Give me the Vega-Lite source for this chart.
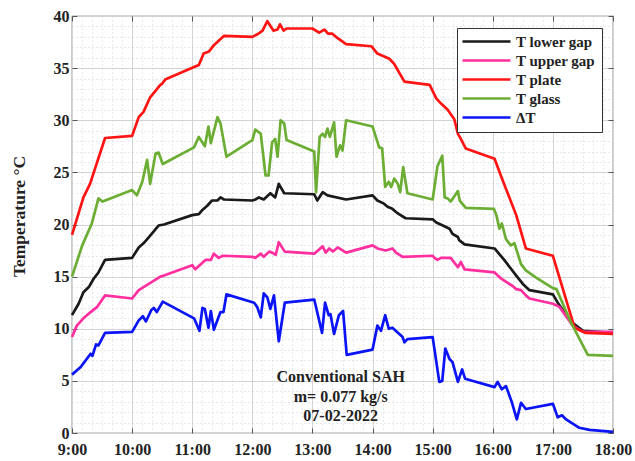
{
"$schema": "https://vega.github.io/schema/vega-lite/v6.json",
"width": 541, "height": 417,
"autosize": {"type": "none"},
"padding": {"left": 72, "top": 16, "right": 22, "bottom": 28},
"background": "white",
"config": {"view": {"stroke": "#555555", "strokeWidth": 1.2}, "font": "Liberation Serif"},
"datasets": {
"notes": [
{"t": 13.47, "v": 5.4, "label": "Conventional SAH"},
{"t": 13.47, "v": 3.5, "label": "m= 0.077 kg/s"},
{"t": 13.47, "v": 1.6, "label": "07-02-2022"}
],
"series": [
{"s":"T lower gap","t":9.0,"v":11.3},{"s":"T lower gap","t":9.11,"v":12.4},{"s":"T lower gap","t":9.19,"v":13.5},{"s":"T lower gap","t":9.28,"v":14.0},{"s":"T lower gap","t":9.36,"v":14.8},{"s":"T lower gap","t":9.44,"v":15.4},{"s":"T lower gap","t":9.55,"v":16.6},{"s":"T lower gap","t":10.0,"v":16.8},{"s":"T lower gap","t":10.11,"v":17.8},{"s":"T lower gap","t":10.19,"v":18.2},{"s":"T lower gap","t":10.28,"v":18.8},{"s":"T lower gap","t":10.44,"v":19.9},{"s":"T lower gap","t":10.53,"v":20.0},{"s":"T lower gap","t":11.0,"v":20.9},{"s":"T lower gap","t":11.11,"v":21.0},{"s":"T lower gap","t":11.17,"v":21.4},{"s":"T lower gap","t":11.25,"v":21.8},{"s":"T lower gap","t":11.33,"v":22.3},{"s":"T lower gap","t":11.42,"v":22.3},{"s":"T lower gap","t":11.47,"v":22.6},{"s":"T lower gap","t":11.53,"v":22.4},{"s":"T lower gap","t":12.0,"v":22.3},{"s":"T lower gap","t":12.05,"v":22.4},{"s":"T lower gap","t":12.11,"v":22.6},{"s":"T lower gap","t":12.19,"v":22.4},{"s":"T lower gap","t":12.3,"v":23.0},{"s":"T lower gap","t":12.38,"v":22.6},{"s":"T lower gap","t":12.44,"v":23.9},{"s":"T lower gap","t":12.53,"v":23.0},{"s":"T lower gap","t":13.03,"v":22.9},{"s":"T lower gap","t":13.08,"v":22.3},{"s":"T lower gap","t":13.17,"v":23.1},{"s":"T lower gap","t":13.25,"v":22.8},{"s":"T lower gap","t":13.56,"v":22.4},{"s":"T lower gap","t":14.0,"v":22.8},{"s":"T lower gap","t":14.08,"v":22.3},{"s":"T lower gap","t":14.19,"v":22.0},{"s":"T lower gap","t":14.25,"v":21.7},{"s":"T lower gap","t":14.33,"v":21.5},{"s":"T lower gap","t":14.39,"v":21.2},{"s":"T lower gap","t":14.44,"v":21.0},{"s":"T lower gap","t":14.55,"v":20.6},{"s":"T lower gap","t":15.0,"v":20.5},{"s":"T lower gap","t":15.06,"v":20.2},{"s":"T lower gap","t":15.17,"v":19.9},{"s":"T lower gap","t":15.28,"v":19.6},{"s":"T lower gap","t":15.33,"v":19.1},{"s":"T lower gap","t":15.42,"v":18.8},{"s":"T lower gap","t":15.44,"v":18.5},{"s":"T lower gap","t":15.53,"v":18.1},{"s":"T lower gap","t":16.03,"v":17.7},{"s":"T lower gap","t":16.19,"v":16.6},{"s":"T lower gap","t":16.39,"v":15.1},{"s":"T lower gap","t":16.5,"v":14.3},{"s":"T lower gap","t":16.61,"v":13.7},{"s":"T lower gap","t":17.0,"v":13.3},{"s":"T lower gap","t":17.08,"v":12.5},{"s":"T lower gap","t":17.3,"v":10.7},{"s":"T lower gap","t":17.5,"v":9.8},{"s":"T lower gap","t":18.0,"v":9.6},
{"s":"T upper gap","t":9.0,"v":9.2},{"s":"T upper gap","t":9.08,"v":10.3},{"s":"T upper gap","t":9.19,"v":11.0},{"s":"T upper gap","t":9.31,"v":11.6},{"s":"T upper gap","t":9.42,"v":12.1},{"s":"T upper gap","t":9.55,"v":13.2},{"s":"T upper gap","t":10.0,"v":12.9},{"s":"T upper gap","t":10.11,"v":13.7},{"s":"T upper gap","t":10.33,"v":14.5},{"s":"T upper gap","t":10.47,"v":15.0},{"s":"T upper gap","t":10.53,"v":15.1},{"s":"T upper gap","t":11.0,"v":16.1},{"s":"T upper gap","t":11.05,"v":15.7},{"s":"T upper gap","t":11.22,"v":16.6},{"s":"T upper gap","t":11.31,"v":16.6},{"s":"T upper gap","t":11.36,"v":17.2},{"s":"T upper gap","t":11.44,"v":16.8},{"s":"T upper gap","t":11.51,"v":17.0},{"s":"T upper gap","t":12.0,"v":16.9},{"s":"T upper gap","t":12.05,"v":16.8},{"s":"T upper gap","t":12.14,"v":17.2},{"s":"T upper gap","t":12.19,"v":16.9},{"s":"T upper gap","t":12.28,"v":17.4},{"s":"T upper gap","t":12.33,"v":17.3},{"s":"T upper gap","t":12.39,"v":17.1},{"s":"T upper gap","t":12.44,"v":18.3},{"s":"T upper gap","t":12.54,"v":17.4},{"s":"T upper gap","t":13.03,"v":17.2},{"s":"T upper gap","t":13.17,"v":17.9},{"s":"T upper gap","t":13.22,"v":17.3},{"s":"T upper gap","t":13.28,"v":17.7},{"s":"T upper gap","t":13.34,"v":17.4},{"s":"T upper gap","t":13.42,"v":17.8},{"s":"T upper gap","t":13.56,"v":17.3},{"s":"T upper gap","t":14.0,"v":18.0},{"s":"T upper gap","t":14.08,"v":17.7},{"s":"T upper gap","t":14.22,"v":17.5},{"s":"T upper gap","t":14.33,"v":17.7},{"s":"T upper gap","t":14.39,"v":17.3},{"s":"T upper gap","t":14.5,"v":16.9},{"s":"T upper gap","t":15.0,"v":17.0},{"s":"T upper gap","t":15.03,"v":16.8},{"s":"T upper gap","t":15.08,"v":16.6},{"s":"T upper gap","t":15.14,"v":16.8},{"s":"T upper gap","t":15.3,"v":16.8},{"s":"T upper gap","t":15.42,"v":15.9},{"s":"T upper gap","t":15.47,"v":16.4},{"s":"T upper gap","t":15.53,"v":15.7},{"s":"T upper gap","t":16.03,"v":15.4},{"s":"T upper gap","t":16.14,"v":14.8},{"s":"T upper gap","t":16.33,"v":14.1},{"s":"T upper gap","t":16.39,"v":13.8},{"s":"T upper gap","t":16.47,"v":13.7},{"s":"T upper gap","t":16.55,"v":13.2},{"s":"T upper gap","t":16.61,"v":12.9},{"s":"T upper gap","t":17.0,"v":12.4},{"s":"T upper gap","t":17.11,"v":12.1},{"s":"T upper gap","t":17.33,"v":10.3},{"s":"T upper gap","t":17.5,"v":9.7},{"s":"T upper gap","t":18.0,"v":9.7},
{"s":"T plate","t":9.0,"v":19.0},{"s":"T plate","t":9.19,"v":22.6},{"s":"T plate","t":9.3,"v":23.9},{"s":"T plate","t":9.55,"v":28.3},{"s":"T plate","t":10.0,"v":28.5},{"s":"T plate","t":10.11,"v":30.3},{"s":"T plate","t":10.19,"v":30.8},{"s":"T plate","t":10.3,"v":32.2},{"s":"T plate","t":10.47,"v":33.4},{"s":"T plate","t":10.5,"v":33.5},{"s":"T plate","t":10.55,"v":33.9},{"s":"T plate","t":11.03,"v":35.1},{"s":"T plate","t":11.11,"v":35.3},{"s":"T plate","t":11.19,"v":36.4},{"s":"T plate","t":11.28,"v":36.6},{"s":"T plate","t":11.36,"v":37.2},{"s":"T plate","t":11.53,"v":38.1},{"s":"T plate","t":12.0,"v":38.0},{"s":"T plate","t":12.1,"v":38.3},{"s":"T plate","t":12.17,"v":38.6},{"s":"T plate","t":12.25,"v":39.5},{"s":"T plate","t":12.35,"v":38.6},{"s":"T plate","t":12.42,"v":38.7},{"s":"T plate","t":12.46,"v":39.2},{"s":"T plate","t":12.52,"v":38.6},{"s":"T plate","t":12.57,"v":38.8},{"s":"T plate","t":13.0,"v":38.8},{"s":"T plate","t":13.11,"v":38.4},{"s":"T plate","t":13.2,"v":38.7},{"s":"T plate","t":13.26,"v":38.3},{"s":"T plate","t":13.33,"v":38.3},{"s":"T plate","t":13.39,"v":38.0},{"s":"T plate","t":13.56,"v":37.3},{"s":"T plate","t":13.98,"v":37.1},{"s":"T plate","t":14.08,"v":36.4},{"s":"T plate","t":14.28,"v":35.9},{"s":"T plate","t":14.36,"v":35.4},{"s":"T plate","t":14.53,"v":33.7},{"s":"T plate","t":14.95,"v":33.4},{"s":"T plate","t":15.06,"v":32.1},{"s":"T plate","t":15.14,"v":31.6},{"s":"T plate","t":15.25,"v":31.0},{"s":"T plate","t":15.36,"v":30.1},{"s":"T plate","t":15.42,"v":28.7},{"s":"T plate","t":15.47,"v":28.2},{"s":"T plate","t":15.55,"v":27.3},{"s":"T plate","t":16.03,"v":26.3},{"s":"T plate","t":16.14,"v":24.6},{"s":"T plate","t":16.39,"v":20.9},{"s":"T plate","t":16.55,"v":17.7},{"s":"T plate","t":17.0,"v":17.0},{"s":"T plate","t":17.36,"v":10.1},{"s":"T plate","t":17.55,"v":9.6},{"s":"T plate","t":18.0,"v":9.5},
{"s":"T glass","t":9.0,"v":15.0},{"s":"T glass","t":9.17,"v":18.0},{"s":"T glass","t":9.33,"v":20.1},{"s":"T glass","t":9.44,"v":22.5},{"s":"T glass","t":9.51,"v":22.2},{"s":"T glass","t":10.0,"v":23.3},{"s":"T glass","t":10.08,"v":22.8},{"s":"T glass","t":10.17,"v":24.1},{"s":"T glass","t":10.25,"v":26.2},{"s":"T glass","t":10.3,"v":23.9},{"s":"T glass","t":10.39,"v":26.8},{"s":"T glass","t":10.44,"v":26.9},{"s":"T glass","t":10.51,"v":25.8},{"s":"T glass","t":11.03,"v":27.4},{"s":"T glass","t":11.11,"v":28.4},{"s":"T glass","t":11.21,"v":27.5},{"s":"T glass","t":11.27,"v":29.4},{"s":"T glass","t":11.31,"v":27.8},{"s":"T glass","t":11.42,"v":30.3},{"s":"T glass","t":11.47,"v":29.7},{"s":"T glass","t":11.57,"v":26.5},{"s":"T glass","t":12.0,"v":28.1},{"s":"T glass","t":12.05,"v":29.1},{"s":"T glass","t":12.14,"v":28.7},{"s":"T glass","t":12.22,"v":24.7},{"s":"T glass","t":12.27,"v":24.7},{"s":"T glass","t":12.33,"v":27.9},{"s":"T glass","t":12.38,"v":28.2},{"s":"T glass","t":12.42,"v":26.5},{"s":"T glass","t":12.47,"v":30.0},{"s":"T glass","t":12.53,"v":29.7},{"s":"T glass","t":12.57,"v":28.1},{"s":"T glass","t":13.03,"v":27.0},{"s":"T glass","t":13.06,"v":23.1},{"s":"T glass","t":13.12,"v":28.4},{"s":"T glass","t":13.17,"v":28.7},{"s":"T glass","t":13.21,"v":28.4},{"s":"T glass","t":13.25,"v":29.2},{"s":"T glass","t":13.29,"v":28.4},{"s":"T glass","t":13.32,"v":29.0},{"s":"T glass","t":13.36,"v":29.8},{"s":"T glass","t":13.4,"v":26.5},{"s":"T glass","t":13.46,"v":27.6},{"s":"T glass","t":13.5,"v":27.1},{"s":"T glass","t":13.56,"v":30.0},{"s":"T glass","t":14.0,"v":29.4},{"s":"T glass","t":14.11,"v":27.4},{"s":"T glass","t":14.16,"v":27.3},{"s":"T glass","t":14.21,"v":23.6},{"s":"T glass","t":14.27,"v":24.1},{"s":"T glass","t":14.31,"v":23.6},{"s":"T glass","t":14.36,"v":24.4},{"s":"T glass","t":14.42,"v":23.9},{"s":"T glass","t":14.46,"v":23.1},{"s":"T glass","t":14.51,"v":25.5},{"s":"T glass","t":14.58,"v":23.0},{"s":"T glass","t":15.0,"v":22.4},{"s":"T glass","t":15.08,"v":25.6},{"s":"T glass","t":15.16,"v":26.6},{"s":"T glass","t":15.2,"v":22.6},{"s":"T glass","t":15.25,"v":22.5},{"s":"T glass","t":15.3,"v":22.2},{"s":"T glass","t":15.42,"v":23.2},{"s":"T glass","t":15.45,"v":22.3},{"s":"T glass","t":15.55,"v":21.6},{"s":"T glass","t":16.02,"v":21.5},{"s":"T glass","t":16.06,"v":20.9},{"s":"T glass","t":16.11,"v":19.6},{"s":"T glass","t":16.15,"v":20.1},{"s":"T glass","t":16.22,"v":18.6},{"s":"T glass","t":16.3,"v":18.0},{"s":"T glass","t":16.36,"v":18.2},{"s":"T glass","t":16.47,"v":16.2},{"s":"T glass","t":16.55,"v":15.6},{"s":"T glass","t":16.72,"v":14.9},{"s":"T glass","t":17.0,"v":13.9},{"s":"T glass","t":17.06,"v":13.8},{"s":"T glass","t":17.3,"v":10.6},{"s":"T glass","t":17.58,"v":7.5},{"s":"T glass","t":18.0,"v":7.4},
{"s":"ΔT","t":9.0,"v":5.6},{"s":"ΔT","t":9.14,"v":6.3},{"s":"ΔT","t":9.31,"v":7.6},{"s":"ΔT","t":9.34,"v":7.4},{"s":"ΔT","t":9.4,"v":8.5},{"s":"ΔT","t":9.44,"v":8.4},{"s":"ΔT","t":9.55,"v":9.6},{"s":"ΔT","t":10.0,"v":9.7},{"s":"ΔT","t":10.11,"v":10.8},{"s":"ΔT","t":10.18,"v":11.2},{"s":"ΔT","t":10.23,"v":10.7},{"s":"ΔT","t":10.32,"v":11.8},{"s":"ΔT","t":10.36,"v":12.0},{"s":"ΔT","t":10.41,"v":11.6},{"s":"ΔT","t":10.51,"v":12.6},{"s":"ΔT","t":11.03,"v":11.0},{"s":"ΔT","t":11.12,"v":9.8},{"s":"ΔT","t":11.17,"v":12.0},{"s":"ΔT","t":11.21,"v":11.9},{"s":"ΔT","t":11.27,"v":10.1},{"s":"ΔT","t":11.31,"v":11.7},{"s":"ΔT","t":11.36,"v":9.9},{"s":"ΔT","t":11.47,"v":11.6},{"s":"ΔT","t":11.52,"v":11.6},{"s":"ΔT","t":11.57,"v":13.3},{"s":"ΔT","t":12.03,"v":12.5},{"s":"ΔT","t":12.08,"v":12.1},{"s":"ΔT","t":12.14,"v":11.1},{"s":"ΔT","t":12.19,"v":13.4},{"s":"ΔT","t":12.25,"v":13.0},{"s":"ΔT","t":12.3,"v":11.9},{"s":"ΔT","t":12.36,"v":13.2},{"s":"ΔT","t":12.44,"v":8.8},{"s":"ΔT","t":12.54,"v":12.5},{"s":"ΔT","t":13.03,"v":12.8},{"s":"ΔT","t":13.16,"v":9.6},{"s":"ΔT","t":13.21,"v":12.5},{"s":"ΔT","t":13.27,"v":11.3},{"s":"ΔT","t":13.3,"v":11.4},{"s":"ΔT","t":13.36,"v":9.5},{"s":"ΔT","t":13.44,"v":11.3},{"s":"ΔT","t":13.51,"v":11.7},{"s":"ΔT","t":13.57,"v":7.5},{"s":"ΔT","t":14.0,"v":8.0},{"s":"ΔT","t":14.08,"v":10.3},{"s":"ΔT","t":14.14,"v":9.8},{"s":"ΔT","t":14.21,"v":11.3},{"s":"ΔT","t":14.27,"v":10.0},{"s":"ΔT","t":14.33,"v":10.1},{"s":"ΔT","t":14.5,"v":9.2},{"s":"ΔT","t":14.53,"v":8.7},{"s":"ΔT","t":14.58,"v":9.0},{"s":"ΔT","t":15.0,"v":9.2},{"s":"ΔT","t":15.11,"v":4.9},{"s":"ΔT","t":15.16,"v":5.0},{"s":"ΔT","t":15.21,"v":8.1},{"s":"ΔT","t":15.28,"v":7.1},{"s":"ΔT","t":15.33,"v":6.8},{"s":"ΔT","t":15.42,"v":4.9},{"s":"ΔT","t":15.49,"v":6.1},{"s":"ΔT","t":15.54,"v":5.2},{"s":"ΔT","t":16.03,"v":4.4},{"s":"ΔT","t":16.08,"v":4.9},{"s":"ΔT","t":16.15,"v":4.2},{"s":"ΔT","t":16.22,"v":4.5},{"s":"ΔT","t":16.32,"v":2.9},{"s":"ΔT","t":16.4,"v":1.3},{"s":"ΔT","t":16.47,"v":2.9},{"s":"ΔT","t":16.55,"v":2.3},{"s":"ΔT","t":17.0,"v":2.8},{"s":"ΔT","t":17.08,"v":1.5},{"s":"ΔT","t":17.15,"v":1.7},{"s":"ΔT","t":17.22,"v":1.3},{"s":"ΔT","t":17.44,"v":0.5},{"s":"ΔT","t":17.61,"v":0.3},{"s":"ΔT","t":18.0,"v":0.1}
]
},
"encoding": {
"x": {"field": "t", "type": "quantitative",
"scale": {"domain": [9, 18], "nice": false, "zero": false},
"axis": {"title": null,
"values": [9,9.1667,9.3333,9.5,9.6667,9.8333,10,10.1667,10.3333,10.5,10.6667,10.8333,11,11.1667,11.3333,11.5,11.6667,11.8333,12,12.1667,12.3333,12.5,12.6667,12.8333,13,13.1667,13.3333,13.5,13.6667,13.8333,14,14.1667,14.3333,14.5,14.6667,14.8333,15,15.1667,15.3333,15.5,15.6667,15.8333,16,16.1667,16.3333,16.5,16.6667,16.8333,17,17.1667,17.3333,17.5,17.6667,17.8333,18],
"labelExpr": "abs(datum.value - round(datum.value)) < 0.01 ? format(round(datum.value), 'd') + ':00' : ''",
"labelOverlap": false, "labelBound": false, "labelFlush": false,
"labelFont": "Liberation Serif", "labelFontWeight": "bold", "labelFontSize": 16, "labelColor": "#222222", "labelPadding": 13,
"domain": false,
"ticks": true, "tickSize": -5, "tickColor": "#555555",
"tickOpacity": {"condition": {"test": "abs(datum.value - round(datum.value)) < 0.01", "value": 1}, "value": 0},
"grid": true,
"gridColor": {"condition": {"test": "abs(datum.value - round(datum.value)) < 0.01", "value": "#d4d4d4"}, "value": "#c8c8c8"},
"gridDash": {"condition": {"test": "abs(datum.value - round(datum.value)) < 0.01", "value": []}, "value": [1, 3]},
"gridWidth": {"condition": {"test": "abs(datum.value - round(datum.value)) < 0.01", "value": 1}, "value": 0.8}
}},
"y": {"field": "v", "type": "quantitative",
"scale": {"domain": [0, 40], "nice": false},
"axis": {"title": "Temperature °C",
"values": [0,1,2,3,4,5,6,7,8,9,10,11,12,13,14,15,16,17,18,19,20,21,22,23,24,25,26,27,28,29,30,31,32,33,34,35,36,37,38,39,40],
"labelExpr": "datum.value % 5 === 0 ? datum.label : ''",
"labelOverlap": false, "labelBound": false, "labelFlush": false,
"labelFont": "Liberation Serif", "labelFontWeight": "bold", "labelFontSize": 16, "labelColor": "#222222", "labelPadding": 8,
"titleFont": "Liberation Serif", "titleFontWeight": "bold", "titleFontSize": 17.5, "titleColor": "#222222",
"titleX": -44, "titleY": 200, "titleAngle": -90,
"domain": false,
"ticks": true, "tickSize": -5, "tickColor": "#555555",
"tickOpacity": {"condition": {"test": "datum.value % 5 === 0", "value": 1}, "value": 0},
"grid": true,
"gridColor": {"condition": {"test": "datum.value % 5 === 0", "value": "#d4d4d4"}, "value": "#c8c8c8"},
"gridDash": {"condition": {"test": "datum.value % 5 === 0", "value": []}, "value": [1, 3]},
"gridWidth": {"condition": {"test": "datum.value % 5 === 0", "value": 1}, "value": 0.8}
}}
},
"layer": [
{
"data": {"name": "series"},
"mark": {"type": "line", "strokeWidth": 2.7, "strokeJoin": "round"},
"encoding": {
"color": {"field": "s", "type": "nominal",
"scale": {"domain": ["T lower gap", "T upper gap", "T plate", "T glass", "ΔT"],
"range": ["#1a1a1a", "#ff2fa0", "#ff1414", "#6cae34", "#0a14f5"]},
"legend": {"title": null, "orient": "none", "legendX": 385, "legendY": 12,
"symbolType": "M-4,0H4", "symbolSize": 144, "symbolStrokeWidth": 2.6, "symbolOffset": 16,
"labelFont": "Liberation Serif", "labelFontWeight": "bold", "labelFontSize": 15, "labelColor": "#222222",
"labelOffset": 22, "rowPadding": 3,
"fillColor": "white", "strokeColor": "#333333", "padding": 6, "cornerRadius": 0}
}
}
},
{
"data": {"name": "notes"},
"mark": {"type": "text", "font": "Liberation Serif", "fontWeight": "bold", "fontSize": 16, "color": "#222222", "align": "center", "baseline": "middle"},
"encoding": {
"x": {"field": "t", "type": "quantitative",
"axis": {"orient": "top", "title": null, "values": [9,10,11,12,13,14,15,16,17,18], "labels": false, "domain": false, "grid": false, "ticks": true, "tickSize": -5, "tickColor": "#555555"}},
"y": {"field": "v", "type": "quantitative",
"axis": {"orient": "right", "title": null, "values": [0,5,10,15,20,25,30,35,40], "labels": false, "domain": false, "grid": false, "ticks": true, "tickSize": -5, "tickColor": "#555555"}},
"text": {"field": "label"}
}
}
],
"resolve": {"axis": {"x": "independent", "y": "independent"}}
}
